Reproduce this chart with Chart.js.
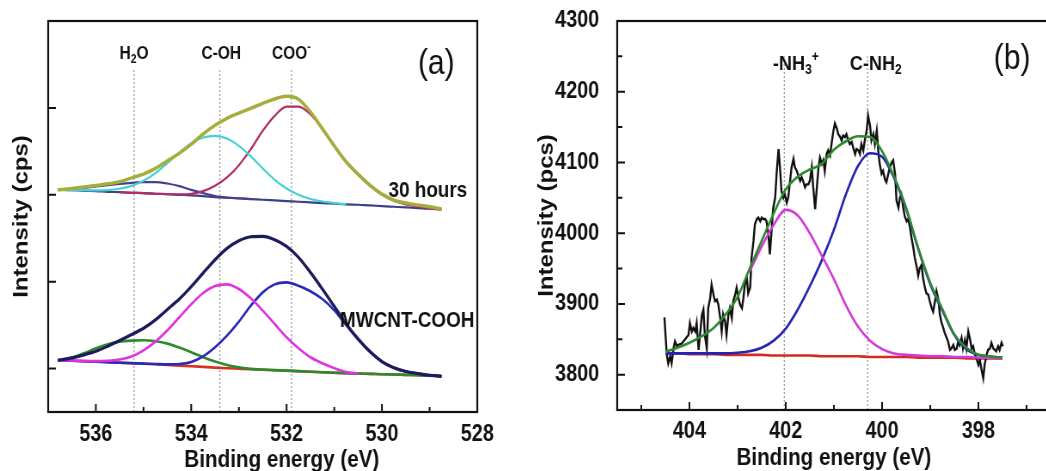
<!DOCTYPE html>
<html>
<head>
<meta charset="utf-8">
<script src="https://cdn.jsdelivr.net/npm/chart.js@4.4.1/dist/chart.umd.min.js"></script>
<style>
  html, body { margin: 0; padding: 0; background: #fff; overflow: hidden; width: 1046px; height: 471px; }
  /* a figura original está comprimida na horizontal: desenha-se larga e aperta-se */
  .caixa { position: absolute; top: 0; height: 471px; transform: scaleX(0.86); transform-origin: 0 0; }
  #caixaA { left: 0; width: 605px; }
  #caixaB { left: 520px; width: 628px; }
</style>
</head>
<body>
<div id="caixaA" class="caixa"><canvas id="graficoA" width="605" height="471"></canvas></div>
<div id="caixaB" class="caixa"><canvas id="graficoB" width="628" height="471"></canvas></div>
<script>
// ---------- (a) O 1s : energias e intensidades (unidades arbitrárias) ----------
const energiaA = [536.8, 536.5, 536.25, 536, 535.75, 535.5, 535.25, 535, 534.75, 534.5, 534.25, 534,
  533.75, 533.5, 533.25, 533, 532.75, 532.5, 532.25, 532, 531.75, 531.5, 531.25, 531, 530.75, 530.5,
  530.25, 530, 529.75, 529.5, 529.25, 529, 528.75];

// 30 hours
const envoltoria30h = [2.054, 2.073, 2.089, 2.107, 2.126, 2.149, 2.195, 2.238, 2.303, 2.391, 2.478, 2.580,
  2.700, 2.800, 2.880, 2.940, 2.995, 3.052, 3.103, 3.134, 3.100, 2.954, 2.762, 2.563, 2.379, 2.238,
  2.111, 2.008, 1.939, 1.905, 1.882, 1.862, 1.836];
const linhaBase30h = [2.057, 2.053, 2.046, 2.042, 2.034, 2.030, 2.023, 2.019, 2.011, 2.008, 2.000, 1.992,
  1.985, 1.973, 1.966, 1.958, 1.950, 1.943, 1.935, 1.927, 1.920, 1.912, 1.904, 1.897, 1.889, 1.885,
  1.877, 1.870, 1.862, 1.854, 1.847, 1.839, 1.831];
const h2o30h = [2.057, 2.069, 2.080, 2.095, 2.111, 2.126, 2.138, 2.146, 2.146, 2.130, 2.100, 2.057,
  2.019, 1.985, 1.968, 1.960, 1.951, null, null, null, null, null, null, null, null, null,
  null, null, null, null, null, null, null];
const cOH30h = [2.057, 2.053, 2.050, 2.050, 2.053, 2.069, 2.103, 2.161, 2.249, 2.364, 2.486, 2.594,
  2.659, 2.678, 2.647, 2.563, 2.441, 2.303, 2.172, 2.073, 2.000, 1.951, 1.923, 1.905, 1.889, null,
  null, null, null, null, null, null, null];
const coo30h = [null, null, null, null, null, 2.030, 2.023, 2.019, 2.011, 2.008, 2.004, 2.011,
  2.042, 2.103, 2.199, 2.341, 2.525, 2.736, 2.908, 3.015, 3.015, 2.927, 2.755, 2.556, 2.372, 2.230,
  2.103, 2.000, 1.931, 1.889, 1.862, 1.843, 1.831];

// MWCNT-COOH
const envoltoriaCOOH = [0.096, 0.123, 0.157, 0.199, 0.257, 0.322, 0.391, 0.464, 0.560, 0.680, 0.800, 0.943,
  1.100, 1.253, 1.383, 1.471, 1.517, 1.521, 1.483, 1.406, 1.280, 1.107, 0.916, 0.716, 0.513, 0.341,
  0.195, 0.080, 0.008, -0.034, -0.057, -0.077, -0.088];
const linhaBaseCOOH = [0.096, 0.090, 0.084, 0.079, 0.073, 0.067, 0.061, 0.056, 0.050, 0.042, 0.034, 0.027,
  0.019, 0.011, 0.004, -0.002, -0.008, -0.013, -0.019, -0.025, -0.031, -0.036, -0.042, -0.048, -0.054, -0.057,
  -0.061, -0.065, -0.069, -0.073, -0.077, -0.082, -0.088];
const h2oCOOH = [0.096, 0.126, 0.176, 0.234, 0.280, 0.310, 0.322, 0.326, 0.314, 0.287, 0.241, 0.188,
  0.130, 0.080, 0.042, 0.015, -0.004, -0.012, -0.018, -0.024, -0.030, -0.036, -0.042, -0.048, -0.054, -0.057,
  -0.061, -0.065, -0.069, -0.073, -0.077, -0.082, -0.088];
const cOHCOOH = [0.096, 0.092, 0.088, 0.086, 0.090, 0.105, 0.140, 0.210, 0.310, 0.440, 0.590, 0.740,
  0.870, 0.950, 0.969, 0.916, 0.808, 0.667, 0.513, 0.360, 0.234, 0.130, 0.061, 0.005, -0.040, -0.055,
  null, null, null, null, null, null, null];
const cooCOOH = [0.096, 0.090, 0.084, 0.079, 0.073, 0.067, 0.062, 0.057, 0.052, 0.048, 0.052, 0.075,
  0.140, 0.245, 0.379, 0.540, 0.724, 0.877, 0.969, 0.992, 0.954, 0.890, 0.800, 0.670, 0.500, 0.335,
  0.190, 0.078, 0.008, -0.034, -0.057, -0.077, -0.088];

const picosA = [535.2, 533.4, 531.9];

// ---------- (b) N 1s ----------
const energiaDadosB = [404.52, 404.47, 404.44, 404.40, 404.37, 404.33, 404.30, 404.26, 404.23, 404.16, 404.09,
  404.02, 403.99, 403.95, 403.92, 403.88, 403.85, 403.81, 403.78, 403.74, 403.71, 403.68, 403.64, 403.61,
  403.57, 403.54, 403.50, 403.47, 403.43, 403.40, 403.36, 403.33, 403.30, 403.26, 403.23, 403.19, 403.16,
  403.12, 403.09, 403.05, 403.02, 402.98, 402.95, 402.91, 402.88, 402.85, 402.81, 402.78, 402.74, 402.71,
  402.67, 402.64, 402.60, 402.57, 402.53, 402.50, 402.47, 402.43, 402.40, 402.36, 402.33, 402.29, 402.26,
  402.22, 402.19, 402.15, 402.12, 402.09, 402.05, 402.02, 401.98, 401.95, 401.91, 401.88, 401.84, 401.81,
  401.77, 401.74, 401.70, 401.67, 401.64, 401.60, 401.57, 401.53, 401.50, 401.46, 401.43, 401.39, 401.36,
  401.32, 401.29, 401.25, 401.22, 401.19, 401.15, 401.12,
  401.08, 401.05, 401.01, 400.98, 400.94, 400.91, 400.87, 400.84, 400.81, 400.77, 400.74, 400.70, 400.67,
  400.63, 400.60, 400.56, 400.53, 400.49, 400.46, 400.43, 400.39, 400.36, 400.32, 400.29, 400.25, 400.22,
  400.18, 400.15, 400.11, 400.08, 400.05, 400.01, 399.98, 399.94, 399.91, 399.87, 399.84, 399.80, 399.77,
  399.73, 399.70, 399.66, 399.63, 399.60, 399.56, 399.53, 399.49, 399.46, 399.42, 399.39, 399.35, 399.32,
  399.28, 399.25, 399.22, 399.18, 399.15, 399.11, 399.08, 399.04, 399.01, 398.97, 398.94, 398.90, 398.87,
  398.83, 398.80, 398.77, 398.73, 398.70, 398.66, 398.63, 398.59, 398.56, 398.52, 398.49, 398.45, 398.42,
  398.39, 398.35, 398.32, 398.28, 398.25, 398.21, 398.18, 398.14, 398.11, 398.07, 398.04, 398.00, 397.97,
  397.94, 397.90, 397.87, 397.83, 397.80, 397.76, 397.73, 397.69, 397.66, 397.63, 397.59, 397.56, 397.52,
  397.49];
const intensidadeDadosB = [3881, 3828, 3816, 3826, 3816, 3837, 3847, 3840, 3842, 3844, 3850,
  3856, 3873, 3861, 3866, 3861, 3873, 3835, 3856, 3885, 3892, 3856, 3837, 3894,
  3908, 3927, 3913, 3904, 3906, 3899, 3880, 3861, 3885, 3875, 3856, 3885, 3894,
  3880, 3904, 3913, 3923, 3908, 3899, 3894, 3908, 3927, 3937, 3915, 3923, 3965,
  3989, 4013, 4020, 4022, 4017, 4022, 4020, 4020, 4017, 3998, 3970, 4008, 4036,
  4050, 4084, 4119, 4093, 4060, 4050, 4055, 4043, 4050, 4074, 4093, 4105, 4093,
  4088, 4081, 4074, 4079, 4074, 4065, 4069, 4069, 4074, 4093, 4065, 4034, 4060,
  4093, 4107, 4098, 4103, 4088, 4112, 4117,
  4110, 4126, 4145, 4155, 4148, 4140, 4136, 4131, 4138, 4136, 4140, 4131, 4126,
  4129, 4121, 4112, 4119, 4117, 4112, 4126, 4117, 4131, 4145, 4166, 4152, 4131,
  4140, 4126, 4145, 4117, 4098, 4084, 4088, 4076, 4072, 4084, 4093, 4100, 4103,
  4084, 4046, 4036, 4050, 4055, 4036, 4024, 4017, 4020, 4008, 3994, 3979, 3965,
  3952, 3940, 3950, 3955, 3937, 3923, 3915, 3913, 3904, 3894, 3889, 3904, 3918,
  3906, 3885, 3875, 3866, 3859, 3852, 3847, 3835, 3837, 3842, 3835, 3837, 3847,
  3842, 3852, 3837, 3849, 3837, 3861, 3852, 3837, 3840, 3828, 3823, 3814, 3821,
  3809, 3795, 3814, 3828, 3835, 3837, 3845, 3837, 3835, 3833, 3840, 3835, 3845,
  3840];

const energiaB = [404.5, 404.25, 404, 403.75, 403.5, 403.25, 403, 402.75, 402.5, 402.25, 402, 401.75,
  401.5, 401.25, 401, 400.75, 400.5, 400.25, 400, 399.75, 399.5, 399.25, 399, 398.75, 398.5, 398.25,
  398, 397.75, 397.5];
const ajusteB = [3832, 3838, 3845, 3854, 3866, 3885, 3910, 3950, 3989, 4028, 4062, 4080,
  4090, 4098, 4118, 4130, 4137, 4136, 4116, 4080, 4036, 3979, 3930, 3893, 3857, 3838,
  3828, 3826, 3824];
const nh3B = [null, null, null, null, null, null, null, 3946, 3981, 4012, 4033, 4025,
  4000, 3968, 3935, 3898, 3868, 3848, 3836, 3830, 3828, 3827, 3826, 3826, 3825, 3825,
  3824, 3824, 3823];
const nh2B = [3830, 3830, 3830, 3830, 3830, 3830, 3831, 3833, 3838, 3848, 3865, 3892,
  3925, 3962, 4005, 4055, 4095, 4113, 4108, 4078, 4034, 3978, 3928, 3891, 3856, 3836,
  3828, 3825, 3824];
const linhaBaseB = [3830, 3830, 3829, 3829, 3829, 3828, 3828, 3828, 3828, 3827, 3827, 3827,
  3827, 3826, 3826, 3826, 3826, 3825, 3825, 3825, 3825, 3824, 3824, 3824, 3824, 3823,
  3823, 3823, 3823];

const picosB = [402.03, 400.3];

const FONTE = "'Liberation Sans', Arial, sans-serif";

// junta energia e intensidade em pontos {x, y}
function pares(xs, ys) {
  return xs.map((x, i) => ({ x: x, y: ys[i] }));
}

function curva(xs, ys, cor, largura) {
  return {
    data: pares(xs, ys),
    borderColor: cor,
    borderWidth: largura,
    pointRadius: 0,
    fill: false,
    cubicInterpolationMode: 'monotone'
  };
}

function linhaPico(x, y0, y1) {
  return {
    data: [{ x: x, y: y0 }, { x: x, y: y1 }],
    borderColor: '#a0a0a0',
    borderWidth: 1.4,
    borderDash: [2, 2],
    pointRadius: 0
  };
}

// moldura e marcas de escala para dentro
const molduraPlugin = {
  id: 'moldura',
  afterDatasetsDraw(chart, args, opts) {
    const { ctx, chartArea: a, scales: { x, y } } = chart;
    ctx.save();
    ctx.strokeStyle = '#111';
    ctx.lineWidth = 2.2;
    ctx.strokeRect(a.left, a.top, a.right - a.left, a.bottom - a.top);
    ctx.lineWidth = 2;
    ctx.beginPath();
    (opts.xMaiores || []).forEach(v => { const p = x.getPixelForValue(v); ctx.moveTo(p, a.bottom); ctx.lineTo(p, a.bottom - 8); });
    (opts.xMenores || []).forEach(v => { const p = x.getPixelForValue(v); ctx.moveTo(p, a.bottom); ctx.lineTo(p, a.bottom - 5); });
    (opts.yMaiores || []).forEach(v => { const p = y.getPixelForValue(v); ctx.moveTo(a.left, p); ctx.lineTo(a.left + 9, p); });
    (opts.yMenores || []).forEach(v => { const p = y.getPixelForValue(v); ctx.moveTo(a.left, p); ctx.lineTo(a.left + 6, p); });
    ctx.stroke();
    ctx.restore();
  }
};

// textos com índices (sub = 1, sobrescrito = 2)
const rotulosPlugin = {
  id: 'rotulos',
  afterDraw(chart, args, opts) {
    const { ctx, scales: { x, y } } = chart;
    ctx.save();
    (opts.itens || []).forEach(item => {
      const tam = item.tam;
      const peso = item.peso || 'bold';
      const fonteNormal = peso + ' ' + tam + 'px ' + FONTE;
      const fontePequena = peso + ' ' + Math.round(tam * 0.65) + 'px ' + FONTE;
      let largura = 0;
      item.partes.forEach(([t, tipo]) => {
        ctx.font = tipo ? fontePequena : fonteNormal;
        largura += ctx.measureText(t).width;
      });
      const px = x.getPixelForValue(item.x);
      const py = item.yPx !== undefined ? item.yPx : y.getPixelForValue(item.y);
      let cx = px - largura / 2;
      if (item.alinhar === 'right') cx = px - largura;
      if (item.alinhar === 'left') cx = px;
      const base = py + tam * 0.36;
      ctx.textAlign = 'left';
      ctx.textBaseline = 'alphabetic';
      ctx.fillStyle = '#111';
      item.partes.forEach(([t, tipo]) => {
        ctx.font = tipo ? fontePequena : fonteNormal;
        const dy = tipo === 1 ? tam * 0.22 : (tipo === 2 ? -tam * 0.42 : 0);
        ctx.fillText(t, cx, base + dy);
        cx += ctx.measureText(t).width;
      });
    });
    ctx.restore();
  }
};

const fonteTicks = { family: FONTE, size: 23, weight: 'bold' };

// tamanhos fixos dos eixos (sem folga extra dos rótulos)
function fixarAltura(h) {
  return s => { s.height = h; s.paddingLeft = 0; s.paddingRight = 0; };
}
function fixarLargura(w) {
  return s => { s.width = w; s.paddingTop = 0; s.paddingBottom = 0; };
}

// ---------- gráfico (a) ----------
new Chart(document.getElementById('graficoA').getContext('2d'), {
  type: 'line',
  data: {
    datasets: [
      curva(energiaA, envoltoria30h, '#a5ad3c', 3.5),
      curva(energiaA, envoltoriaCOOH, '#1c1c5c', 3.2),
      curva(energiaA, cOH30h, '#45cfd6', 2.2),
      curva(energiaA, coo30h, '#b02d68', 2.2),
      curva(energiaA, h2o30h, '#4a3f8e', 2.2),
      curva(energiaA, linhaBase30h, '#3c3f8c', 2.2),
      curva(energiaA, cOHCOOH, '#e033e0', 2.6),
      curva(energiaA, cooCOOH, '#2a2ab8', 2.6),
      curva(energiaA, h2oCOOH, '#2e8a2e', 2.6),
      curva(energiaA, linhaBaseCOOH, '#d53222', 2.6),
      ...picosA.map(p => linhaPico(p, -0.5, 3.45))
    ]
  },
  options: {
    responsive: false,
    animation: false,
    events: [],
    layout: { padding: { top: 21, right: 50, left: 0, bottom: 0 } },
    plugins: {
      legend: { display: false },
      tooltip: { enabled: false },
      moldura: { xMaiores: [530, 532, 534, 536], xMenores: [529, 531, 533, 535], yMaiores: [0, 1, 2, 3] },
      rotulos: {
        itens: [
          { partes: [['H', 0], ['2', 1], ['O', 0]], x: 535.2, y: 3.64, tam: 18 },
          { partes: [['C-OH', 0]], x: 533.37, y: 3.64, tam: 18 },
          { partes: [['COO', 0], ['-', 2]], x: 531.9, y: 3.64, tam: 18 },
          { partes: [['(a)', 0]], x: 528.86, y: 3.53, tam: 35, peso: 'normal' },
          { partes: [['30 hours', 0]], x: 528.21, y: 2.07, tam: 22, alinhar: 'right' },
          { partes: [['MWCNT-COOH', 0]], x: 530.88, y: 0.575, tam: 22, alinhar: 'left' },
          { partes: [['Binding energy (eV)', 0]], x: 532.1, yPx: 458, tam: 24 }
        ]
      }
    },
    scales: {
      x: {
        type: 'linear',
        reverse: true,
        min: 528,
        max: 537,
        grid: { display: false, drawTicks: false },
        border: { display: false },
        ticks: { stepSize: 2, includeBounds: false, padding: 9, color: '#111', font: fonteTicks,
                 callback: v => String(v) },
        afterFit: fixarAltura(59)
      },
      y: {
        type: 'linear',
        min: -0.5,
        max: 4,
        grid: { display: false, drawTicks: false },
        border: { display: false },
        ticks: { display: false },
        title: {
          display: true, text: 'Intensity (cps)', color: '#111',
          font: { family: FONTE, size: 24, weight: 'bold', lineHeight: 1 },
          padding: { top: 13, bottom: 0 }
        },
        afterFit: fixarLargura(56)
      }
    }
  },
  plugins: [molduraPlugin, rotulosPlugin]
});

// ---------- gráfico (b) ----------
new Chart(document.getElementById('graficoB').getContext('2d'), {
  type: 'line',
  data: {
    datasets: [
      curva(energiaB, ajusteB, '#2f8a2f', 2.6),
      curva(energiaB, nh3B, '#d43ad4', 2.6),
      curva(energiaB, nh2B, '#2424b2', 2.6),
      Object.assign(curva(energiaDadosB, intensidadeDadosB, '#111111', 2.4), { cubicInterpolationMode: 'default', tension: 0 }),
      curva(energiaB, linhaBaseB, '#d52a20', 2.6),
      ...picosB.map(p => linhaPico(p, 3750, 4250))
    ]
  },
  options: {
    responsive: false,
    animation: false,
    events: [],
    layout: { padding: { top: 21, right: 11, left: 0, bottom: 0 } },
    plugins: {
      legend: { display: false },
      tooltip: { enabled: false },
      moldura: {
        xMaiores: [398, 400, 402, 404], xMenores: [397, 399, 401, 403, 405],
        yMaiores: [3800, 3900, 4000, 4100, 4200], yMenores: [3850, 3950, 4050, 4150, 4250]
      },
      rotulos: {
        itens: [
          { partes: [['-NH', 0], ['3', 1], ['+', 2]], x: 401.79, y: 4242, tam: 21 },
          { partes: [['C-NH', 0], ['2', 1]], x: 400.13, y: 4242, tam: 21 },
          { partes: [['(b)', 0]], x: 397.3, y: 4250, tam: 35, peso: 'normal' }
        ]
      }
    },
    scales: {
      x: {
        type: 'linear',
        reverse: true,
        min: 396.5,
        max: 405.5,
        grid: { display: false, drawTicks: false },
        border: { display: false },
        ticks: { stepSize: 2, includeBounds: false, padding: 8, color: '#111', font: fonteTicks,
                 callback: v => String(v) },
        title: {
          display: true, text: 'Binding energy (eV)', color: '#111',
          font: { family: FONTE, size: 24, weight: 'bold', lineHeight: 1 },
          padding: { top: 0, bottom: 1 }
        },
        afterFit: fixarAltura(61)
      },
      y: {
        type: 'linear',
        min: 3750,
        max: 4300,
        grid: { display: false, drawTicks: false },
        border: { display: false },
        ticks: { stepSize: 100, includeBounds: false, padding: 21, color: '#111', font: fonteTicks,
                 callback: v => String(v) },
        title: {
          display: true, text: 'Intensity (pcs)', color: '#111',
          font: { family: FONTE, size: 24, weight: 'bold', lineHeight: 1 },
          padding: { top: 19, bottom: 0 }
        },
        afterFit: fixarLargura(113)
      }
    }
  },
  plugins: [molduraPlugin, rotulosPlugin]
});
</script>
</body>
</html>
